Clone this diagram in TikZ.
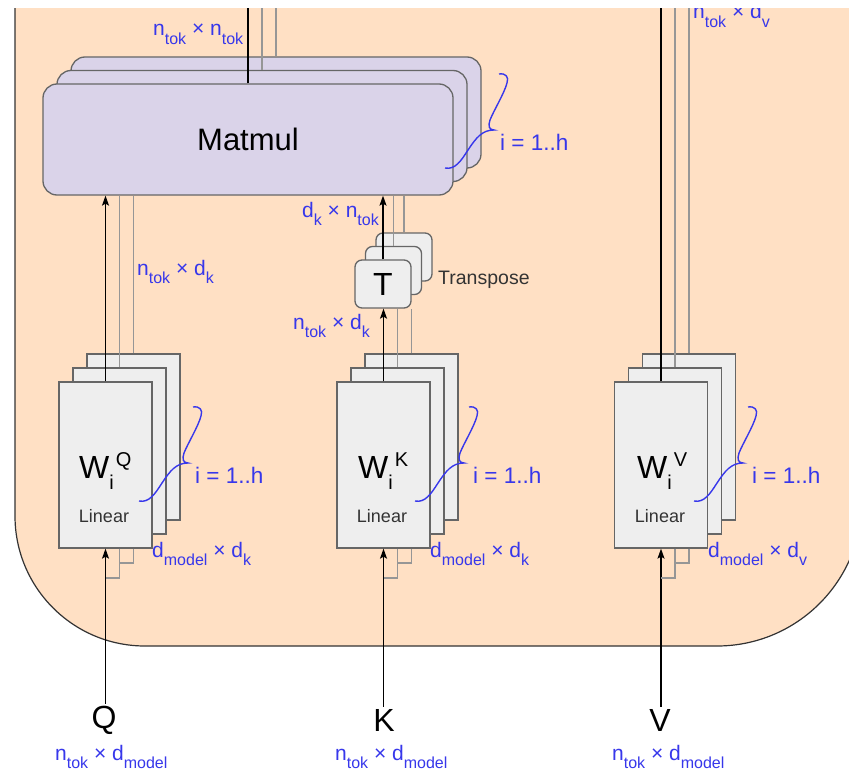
\documentclass[tikz,border=0pt]{standalone}
\usepackage{fontspec}
\setmainfont{Liberation Sans}
\usetikzlibrary{arrows.meta}
\definecolor{panel}{RGB}{255,224,196}
\definecolor{mmfill}{RGB}{218,211,233}
\definecolor{boxfill}{RGB}{238,238,238}
\definecolor{boxdraw}{RGB}{102,102,102}
\definecolor{glink}{RGB}{150,150,150}
\definecolor{bluec}{RGB}{55,55,235}
\definecolor{txtgray}{RGB}{51,51,51}
\newcommand{\myfs}[1]{\fontsize{#1}{#1}\selectfont}
\newcommand{\mysub}[1]{\raisebox{-8.5pt}{\myfs{16}#1}}
\newcommand{\ihbrace}[1]{\draw[brc, shift={#1}] (11,-56) .. controls (18,-57) and (21,-53) .. (19,-47) .. controls (16,-36) and (6,-20) .. (2,-10) .. controls (0,-4) and (1,0) .. (6,0) .. controls (-6,0) and (-12,8) .. (-20,20) .. controls (-27,31) and (-33,40) .. (-43,38);}
\begin{document}
\begin{tikzpicture}[x=1pt,y=-1pt,
  mmbox/.style={draw=boxdraw, fill=mmfill, line width=1.3pt, rounded corners=14pt, minimum width=410pt, minimum height=111pt, inner sep=0pt},
  linbox/.style={draw=boxdraw, fill=boxfill, line width=1.3pt, minimum width=93pt, minimum height=166pt, inner sep=0pt},
  tbox/.style={draw=boxdraw, fill=boxfill, line width=1.3pt, rounded corners=7pt, minimum width=56pt, minimum height=48pt, inner sep=0pt, font=\myfs{32}},
  conn/.style={draw=black, line width=1.3pt},
  arr/.style={conn, -{Stealth[length=10pt,width=7pt,inset=2pt]}},
  gline/.style={draw=glink, line width=1.3pt},
  lbl/.style={text=bluec, font=\myfs{21}, inner sep=0pt, anchor=base west},
  ilbl/.style={lbl, font=\myfs{22.5}},
  brc/.style={draw=bluec, line width=1.4pt},
  wlab/.style={anchor=base west, inner sep=0pt, font=\myfs{32}},
  linlab/.style={anchor=base, inner sep=0pt, font=\myfs{18}, text=txtgray},
  inlab/.style={inner sep=2pt, font=\myfs{32}}
]
\clip (0,0) rectangle (849,773);
\fill[white] (0,0) rectangle (849,773);
% panel
\filldraw[fill=panel, draw=black!80, line width=1.2pt] (15,-20) -- (15,516) arc(180:90:130) -- (717,646) arc(90:0:145) -- (862,-20);

\coordinate (top) at (0,0);
\coordinate (elb1) at (0,578);
\coordinate (elb2) at (0,563);

% Matmul stack
\node[mmbox] (mm3) at (276,112.5) {};
\node[mmbox] (mm2) at (262,126) {};
\node[mmbox, font=\myfs{31}] (mm1) at (248,139.5) {Matmul};

% Transpose stack
\node[tbox] (T3) at (404,257) {};
\node[tbox] (T2) at (393.5,270.5) {};
\node[tbox] (T1) at (383,284) {T};
\node[anchor=base west, inner sep=0pt, font=\myfs{19.5}, text=txtgray] (tr) at (438,284) {Transpose};

% Linear stacks
\node[linbox] (Qb) at (133.5,437) {};
\node[linbox] (Qm) at (119.5,451) {};
\node[linbox] (Qf) at (105.5,465) {};
\node[linbox] (Kb) at (411.5,437) {};
\node[linbox] (Km) at (397.5,451) {};
\node[linbox] (Kf) at (383.5,465) {};
\node[linbox] (Vb) at (689,437) {};
\node[linbox] (Vm) at (675,451) {};
\node[linbox] (Vf) at (661,465) {};

\node[wlab] (QW) at (79,478) {W\raisebox{-11pt}{\myfs{20}i}\kern2pt\raisebox{12pt}{\myfs{20}Q}};
\node[wlab] (KW) at (358,478) {W\raisebox{-11pt}{\myfs{20}i}\kern2pt\raisebox{12pt}{\myfs{20}K}};
\node[wlab] (VW) at (637,478) {W\raisebox{-11pt}{\myfs{20}i}\kern2pt\raisebox{12pt}{\myfs{20}V}};
\node[linlab] (QL) at (104,522) {Linear};
\node[linlab] (KL) at (382,522) {Linear};
\node[linlab] (VL) at (660,522) {Linear};

% inputs
\node[inlab] (Qin) at (104,720) {Q};
\node[inlab] (Kin) at (384,720) {K};
\node[inlab] (Vin) at (660,720) {V};

% output lines
\draw[conn] (mm1.north) -- (mm1.north |- top);
\draw[gline] (mm2.north) -- (mm2.north |- top);
\draw[gline] (mm3.north) -- (mm3.north |- top);
\draw[conn] (Vf.north) -- (Vf.north |- top);
\draw[gline] (Vm.north) -- (Vm.north |- top);
\draw[gline] (Vb.north) -- (Vb.north |- top);

% Q to matmul
\draw[arr] (Qf.north) -- (Qf.north |- mm1.south);
\draw[gline] (Qm.north) -- (Qm.north |- mm1.south);
\draw[gline] (Qb.north) -- (Qb.north |- mm1.south);
% K to transpose
\draw[arr] (Kf.north) -- (Kf.north |- T1.south);
\draw[gline] (Km.north) -- (Km.north |- T1.south);
\draw[gline] (Kb.north) -- (Kb.north |- T1.south);
% transpose to matmul
\draw[arr] (T1.north) -- (T1.north |- mm1.south);
\draw[gline] (T2.north) -- (T2.north |- mm1.south);
\draw[gline] (T3.north) -- (T3.north |- mm1.south);

% inputs to linear
\draw[arr] (Qf.south |- Qin.north) -- (Qf.south);
\draw[arr] (Kf.south |- Kin.north) -- (Kf.south);
\draw[arr] (Vf.south |- Vin.north) -- (Vf.south);
\draw[gline] (Qm.south |- Qf.south) -- (Qm.south |- elb1) -- (Qf.south |- elb1);
\draw[gline] (Qb.south |- Qf.south) -- (Qb.south |- elb2) -- (Qm.south |- elb2);
\draw[gline] (Km.south |- Kf.south) -- (Km.south |- elb1) -- (Kf.south |- elb1);
\draw[gline] (Kb.south |- Kf.south) -- (Kb.south |- elb2) -- (Km.south |- elb2);
\draw[gline] (Vm.south |- Vf.south) -- (Vm.south |- elb1) -- (Vf.south |- elb1);
\draw[gline] (Vb.south |- Vf.south) -- (Vb.south |- elb2) -- (Vm.south |- elb2);

% braces
\ihbrace{(182,463)}
\ihbrace{(458,463)}
\ihbrace{(737,463)}
\ihbrace{(488,130)}

% blue labels
\node[ilbl] (lmm) at (500,151) {i = 1..h};
\node[ilbl] (lQi) at (195,483) {i = 1..h};
\node[ilbl] (lKi) at (473,483) {i = 1..h};
\node[ilbl] (lVi) at (752,483) {i = 1..h};
\node[lbl] (lout) at (153,36) {n\mysub{tok} × n\mysub{tok}};
\node[lbl] (lvout) at (693,19) {n\mysub{tok} × d\mysub{v}};
\node[lbl] (lqk) at (137,275) {n\mysub{tok} × d\mysub{k}};
\node[lbl] (ltk) at (302,217) {d\mysub{k} × n\mysub{tok}};
\node[lbl] (lkk) at (293,329) {n\mysub{tok} × d\mysub{k}};
\node[lbl] (lQw) at (152,557) {d\mysub{model} × d\mysub{k}};
\node[lbl] (lKw) at (430,557) {d\mysub{model} × d\mysub{k}};
\node[lbl] (lVw) at (708,557) {d\mysub{model} × d\mysub{v}};
\node[lbl] (lQin) at (55,760) {n\mysub{tok} × d\mysub{model}};
\node[lbl] (lKin) at (335,760) {n\mysub{tok} × d\mysub{model}};
\node[lbl] (lVin) at (612,760) {n\mysub{tok} × d\mysub{model}};

% white band at top
\fill[white] (0,-5) rectangle (849,8);
\end{tikzpicture}
\end{document}
